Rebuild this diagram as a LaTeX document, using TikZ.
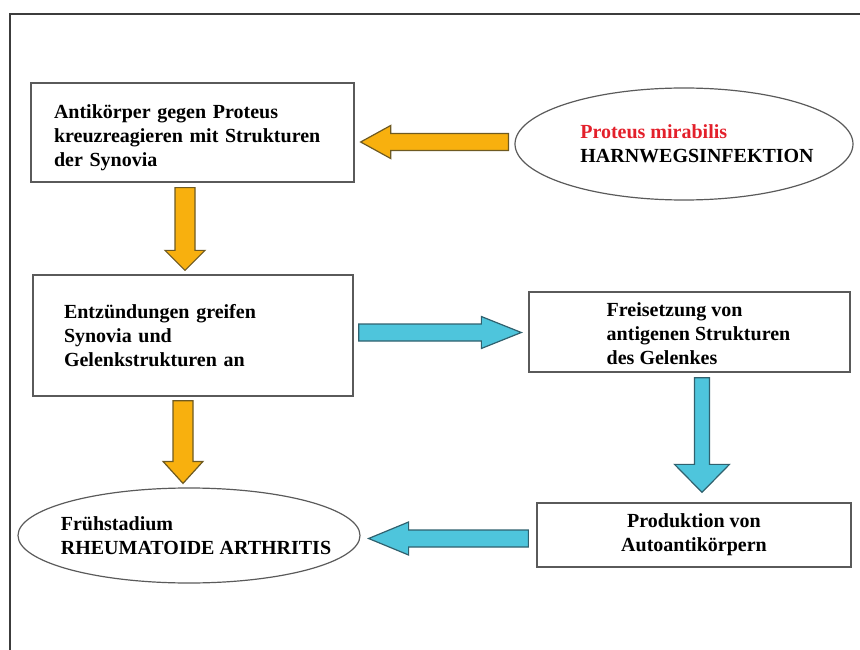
\documentclass[tikz,border=0pt]{standalone}
\usepackage{fontspec}
\setmainfont{Liberation Serif}
\usetikzlibrary{shapes.geometric,calc,positioning}

\definecolor{boxgray}{HTML}{5A5A5A}
\definecolor{framegray}{HTML}{3C3C3C}
\definecolor{orng}{HTML}{F8B00E}
\definecolor{orngline}{HTML}{6E5A22}
\definecolor{cyn}{HTML}{4EC5DC}
\definecolor{cynline}{HTML}{30616E}
\definecolor{protred}{HTML}{E3202B}

\begin{document}
\begin{tikzpicture}[x=1pt,y=-1pt,
		font=\fontsize{20}{24}\selectfont\bfseries,
		box/.style={draw=boxgray,line width=1.3pt,rectangle,inner sep=0pt},
		oval/.style={draw=boxgray,line width=1.2pt,ellipse,inner sep=0pt},
		fat/.style n args={3}{to path={
			($(\tikztostart)!#1!90:(\tikztotarget)$)
			-- ($(\tikztotarget)!#3!(\tikztostart)!#1!-90:(\tikztostart)$)
			-- ($(\tikztotarget)!#3!(\tikztostart)!#2!-90:(\tikztostart)$)
			-- (\tikztotarget)
			-- ($(\tikztotarget)!#3!(\tikztostart)!#2!90:(\tikztostart)$)
			-- ($(\tikztotarget)!#3!(\tikztostart)!#1!90:(\tikztostart)$)
			-- ($(\tikztostart)!#1!-90:(\tikztotarget)$)
			-- cycle}},
		oarrow/.style={draw=orngline,fill=orng,line width=1.2pt},
		carrow/.style={draw=cynline,fill=cyn,line width=1.2pt}]
	\useasboundingbox (0,0) rectangle (860,650);
	\draw[framegray,line width=1.3pt] (10,650) -- (10,14) -- (860,14);

	\node [box,minimum width=323pt,minimum height=99pt,
		label={[align=left,text width=277pt,yshift=-5pt]center:{Antikörper gegen Proteus\\kreuzreagieren mit Strukturen\\der Synovia}}] (antik) at (192.5,132.5) {};
	\node [oval,minimum width=338pt,minimum height=112pt,
		label={[align=left,xshift=13pt]center:{\textcolor{protred}{Proteus mirabilis}\\HARNWEGSINFEKTION}}] (prot) at (684,144) {};
	\node [box,minimum width=320pt,minimum height=121pt,text width=258pt,align=left] (entz) at (193,335.5)
		{Entzündungen greifen\\Synovia und\\Gelenkstrukturen an};
	\node [box,minimum width=321pt,minimum height=80pt,
		label={[align=left,xshift=9pt,yshift=-2pt]center:{Freisetzung von\\antigenen Strukturen\\des Gelenkes}}] (frei) at (689.5,332) {};
	\node [box,minimum width=314pt,minimum height=64pt,align=center] (prod) at (694,535)
		{Produktion von\\Autoantikörpern};
	\node [oval,minimum width=342pt,minimum height=95pt,
		label={[align=left,xshift=7pt]center:{Frühstadium\\RHEUMATOIDE ARTHRITIS}}] (rheu) at (189,535.5) {};

	\coordinate (o1s) at ($(prot.west)+(-6,-2)$);
	\coordinate (o1e) at ($(antik.east |- o1s)+(6,0)$);
	\coordinate (o2s) at ($(antik.south)+(-7.5,5)$);
	\coordinate (o2e) at ($(entz.north -| o2s)+(0,-4)$);
	\coordinate (o3s) at ($(entz.south)+(-10,4)$);
	\coordinate (o3e) at ($(rheu.north -| o3s)+(0,-4)$);
	\coordinate (c1s) at ($(entz.east)+(5,-3)$);
	\coordinate (c1e) at ($(frei.west |- c1s)+(-7,0)$);
	\coordinate (c2s) at ($(frei.south)+(12.5,5)$);
	\coordinate (c2e) at ($(prod.north -| c2s)+(0,-10)$);
	\coordinate (c3s) at ($(prod.west)+(-8,3.5)$);
	\coordinate (c3e) at ($(rheu.east |- c3s)+(8,0)$);

	\draw [oarrow,fat={8.5pt}{16.5pt}{30pt}] (o1s) to (o1e);
	\draw [oarrow,fat={10pt}{20pt}{20pt}] (o2s) to (o2e);
	\draw [oarrow,fat={10pt}{20pt}{22pt}] (o3s) to (o3e);
	\draw [carrow,fat={8.5pt}{16pt}{40pt}] (c1s) to (c1e);
	\draw [carrow,fat={7.5pt}{27.5pt}{28pt}] (c2s) to (c2e);
	\draw [carrow,fat={8.5pt}{16.5pt}{40pt}] (c3s) to (c3e);
\end{tikzpicture}
\end{document}
